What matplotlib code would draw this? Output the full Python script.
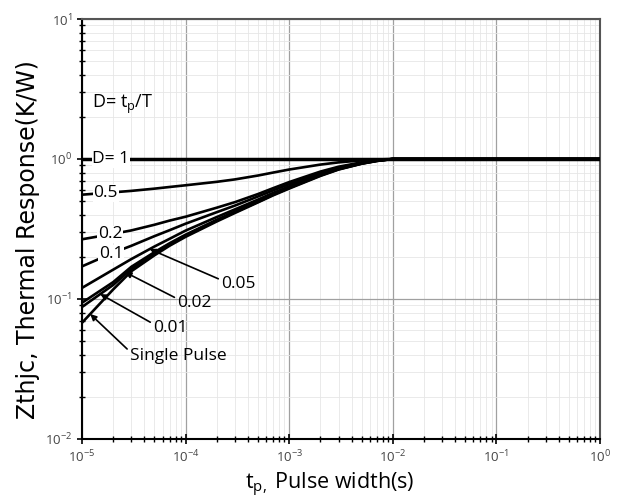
import numpy as np
import matplotlib
matplotlib.use("Agg")
import matplotlib.pyplot as plt
from matplotlib.ticker import LogLocator, NullFormatter

## fonts
plt.rcParams['font.family'] = ['Open Sans', 'DejaVu Sans']
plt.rcParams['mathtext.fontset'] = 'custom'
plt.rcParams['mathtext.rm'] = 'Open Sans'
plt.rcParams['mathtext.it'] = 'Open Sans:italic'
plt.rcParams['mathtext.bf'] = 'Open Sans:bold'

## pulse width (s)
tp = [1e-5, 2e-5, 3e-5, 5e-5, 7e-5, 1e-4, 2e-4, 3e-4, 5e-4, 7e-4,
      1e-3, 2e-3, 3e-3, 5e-3, 7e-3, 1e-2, 1e0]

## thermal response Zthjc (K/W) per duty cycle
z_d1     = [1.0] * 17
z_d05    = [0.556, 0.578, 0.592, 0.614, 0.631, 0.649, 0.687, 0.715, 0.762, 0.800,
            0.841, 0.912, 0.946, 0.977, 0.991, 1.0, 1.0]
z_d02    = [0.267, 0.292, 0.309, 0.339, 0.363, 0.387, 0.449, 0.492, 0.562, 0.619,
            0.684, 0.813, 0.881, 0.946, 0.977, 1.0, 1.0]
z_d01    = [0.171, 0.214, 0.240, 0.281, 0.310, 0.345, 0.417, 0.465, 0.540, 0.597,
            0.661, 0.794, 0.867, 0.940, 0.975, 1.0, 1.0]
z_d005   = [0.120, 0.162, 0.193, 0.237, 0.269, 0.308, 0.385, 0.437, 0.513, 0.573,
            0.638, 0.776, 0.855, 0.933, 0.973, 1.0, 1.0]
z_d002   = [0.094, 0.132, 0.170, 0.216, 0.250, 0.288, 0.368, 0.422, 0.499, 0.560,
            0.627, 0.767, 0.849, 0.929, 0.971, 1.0, 1.0]
z_d001   = [0.0877, 0.126, 0.164, 0.211, 0.245, 0.283, 0.363, 0.417, 0.494, 0.555,
            0.621, 0.762, 0.845, 0.927, 0.968, 1.0, 1.0]
z_single = [0.0676, 0.117, 0.158, 0.205, 0.240, 0.278, 0.358, 0.412, 0.490, 0.550,
            0.615, 0.757, 0.841, 0.925, 0.968, 1.0, 1.0]

## inline labels: (text, x position, curve)
inline_labels = [("D= 1", 1.9e-5, z_d1), ("0.5", 1.7e-5, z_d05),
                 ("0.2", 1.86e-5, z_d02), ("0.1", 1.9e-5, z_d01)]

## arrow labels: (text, text x, text y, arrow tip x, curve)
arrow_labels = [("0.05",         2.2e-4,  0.128,  4.5e-5,  z_d005),
                ("0.02",         8.3e-5,  0.094,  2.6e-5,  z_d002),
                ("0.01",         4.85e-5, 0.0623, 1.5e-5,  z_d001),
                ("Single Pulse", 2.9e-5,  0.0394, 1.2e-5,  z_single)]


def interp_log(x, xs, ys):
    ## log-log lookup on a curve
    return 10 ** np.interp(np.log10(x), np.log10(xs), np.log10(ys))


fig = plt.figure(figsize=(6.25, 5.04), dpi=100)
ax = fig.add_axes([0.1312, 0.129, 0.8288, 0.8333])

ax.set_xscale('log')
ax.set_yscale('log')
ax.set_xlim(1e-5, 1e0)
ax.set_ylim(1e-2, 1e1)

## grid
ax.grid(True, which='major', color='#a0a0a0', lw=0.9, zorder=0)
ax.grid(True, which='minor', color='#e6e6e6', lw=0.6, zorder=0)
ax.set_axisbelow(True)

## curves
for z in [z_d05, z_d02, z_d01, z_d005, z_d002, z_d001, z_single]:
    ax.plot(tp, z, color='black', lw=1.9, zorder=3, solid_joinstyle='round')
ax.plot(tp, z_d1, color='black', lw=2.5, zorder=3)

## inline labels break the curve
for txt, x, z in inline_labels:
    ax.text(x, interp_log(x, tp, z), txt, fontsize=12.5, ha='center', va='center',
            zorder=5, bbox=dict(facecolor='white', edgecolor='none', pad=0.5))

ax.text(1.25e-5, 2.45, "D= t$_\\mathregular{p}$/T", fontsize=13, ha='left', va='center')

## arrow labels
for txt, tx, ty, tip_x, z in arrow_labels:
    ax.annotate(txt, xy=(tip_x, interp_log(tip_x, tp, z)), xytext=(tx, ty),
                fontsize=12.5, ha='left', va='center', zorder=6,
                arrowprops=dict(arrowstyle='-|>', color='black', lw=1.2,
                                mutation_scale=9, shrinkA=0, shrinkB=0,
                                relpos=(0.0, 0.75)))

## ticks
ax.xaxis.set_major_locator(LogLocator(base=10, numticks=10))
ax.xaxis.set_minor_locator(LogLocator(base=10, subs=np.arange(2, 10), numticks=20))
ax.yaxis.set_major_locator(LogLocator(base=10, numticks=10))
ax.yaxis.set_minor_locator(LogLocator(base=10, subs=np.arange(2, 10), numticks=20))
ax.xaxis.set_minor_formatter(NullFormatter())
ax.yaxis.set_minor_formatter(NullFormatter())
ax.tick_params(which='major', direction='inout', length=7, width=1.2,
               labelsize=9.5, labelcolor='#444444')
ax.tick_params(which='minor', direction='inout', length=4, width=1.0)

## spines
for s in ['left', 'bottom']:
    ax.spines[s].set_color('black')
    ax.spines[s].set_linewidth(1.5)
for s in ['top', 'right']:
    ax.spines[s].set_color('#555555')
    ax.spines[s].set_linewidth(1.5)

ax.set_xlabel("t$_\\mathregular{p,}$ Pulse width(s)", fontsize=15.5)
ax.set_ylabel("Zthjc, Thermal Response(K/W)", fontsize=17, family=['DejaVu Sans'])
ax.xaxis.set_label_coords(0.479, -0.075)
ax.yaxis.set_label_coords(-0.082, 0.474)

fig.savefig("out.png", dpi=100)
